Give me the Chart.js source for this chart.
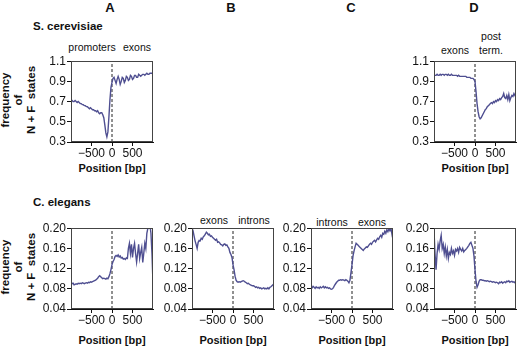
<!DOCTYPE html>
<html>
<head>
<meta charset="utf-8">
<script src="https://cdn.jsdelivr.net/npm/chart.js@4.4.1/dist/chart.umd.min.js"></script>
<style>
  body { margin: 0; background: #fff; overflow: hidden; }
  #page { position: relative; width: 518px; height: 347px; font-family: "Liberation Sans", Arial, sans-serif; color: #111; }
  canvas { position: absolute; }
  .t { position: absolute; transform: translate(-50%, -50%); white-space: nowrap; }
  .letter { font-size: 13px; font-weight: bold; }
  .note { font-size: 10.5px; }
  .pos { font-size: 11px; font-weight: bold; }
  .species { position: absolute; font-size: 11.5px; font-weight: bold; transform: translateY(-50%); }
  .ylab { position: absolute; transform: translate(-50%, -50%) rotate(-90deg); font-size: 11.5px; font-weight: bold; text-align: center; line-height: 13px; white-space: nowrap; }
</style>
</head>
<body>
<div id="page">
  <div class="t letter" style="left:110px; top:7px;">A</div>
  <div class="t letter" style="left:231px; top:7px;">B</div>
  <div class="t letter" style="left:351px; top:7px;">C</div>
  <div class="t letter" style="left:474px; top:7px;">D</div>

  <div class="species" style="left:33px; top:26px;">S. cerevisiae</div>
  <div class="species" style="left:33px; top:202px;">C. elegans</div>

  <div class="ylab" style="left:18px; top:100px;">frequency<br>of<br>N + F&nbsp; states</div>
  <div class="ylab" style="left:18px; top:267px;">frequency<br>of<br>N + F&nbsp; states</div>

  <div class="t note" style="left:92px; top:47px;">promoters</div>
  <div class="t note" style="left:137px; top:47px;">exons</div>
  <div class="t note" style="left:455px; top:50px;">exons</div>
  <div class="t note" style="left:491px; top:36px;">post</div>
  <div class="t note" style="left:491px; top:50px;">term.</div>
  <div class="t note" style="left:214px; top:220px;">exons</div>
  <div class="t note" style="left:254px; top:220px;">introns</div>
  <div class="t note" style="left:332px; top:222px;">introns</div>
  <div class="t note" style="left:372px; top:222px;">exons</div>

  <div class="t pos" style="left:112px; top:168px;">Position [bp]</div>
  <div class="t pos" style="left:475px; top:168px;">Position [bp]</div>
  <div class="t pos" style="left:112px; top:340px;">Position [bp]</div>
  <div class="t pos" style="left:233px; top:340px;">Position [bp]</div>
  <div class="t pos" style="left:352px; top:340px;">Position [bp]</div>
  <div class="t pos" style="left:475px; top:340px;">Position [bp]</div>

  <canvas id="yeastA" width="125" height="109"></canvas>
  <canvas id="yeastD" width="125" height="109"></canvas>
  <canvas id="wormA" width="125" height="109"></canvas>
  <canvas id="wormB" width="125" height="109"></canvas>
  <canvas id="wormC" width="125" height="109"></canvas>
  <canvas id="wormD" width="125" height="109"></canvas>
</div>

<script>
// position relative to the boundary, bp
const positions = [
    -1000, -975, -950, -925, -900, -875, -850, -825, -800, -775,
    -750, -725, -700, -675, -650, -625, -600, -575, -550, -525,
    -500, -475, -450, -425, -400, -375, -350, -325, -300, -275,
    -250, -225, -200, -175, -150, -125, -100, -75, -50, -25,
    0, 25, 50, 75, 100, 125, 150, 175, 200, 225,
    250, 275, 300, 325, 350, 375, 400, 425, 450, 475,
    500, 525, 550, 575, 600, 625, 650, 675, 700, 725,
    750, 775, 800, 825, 850, 875, 900, 925, 950, 975, 1000
];

const xTicks = [-500, 0, 500];
const yeastTicks = [0.3, 0.5, 0.7, 0.9, 1.1];
const wormTicks = [0.04, 0.08, 0.12, 0.16, 0.20];

// S. cerevisiae, promoters -> exons
const yeastPromExon = [
    0.70, 0.71, 0.70, 0.70, 0.71, 0.70, 0.69, 0.70, 0.69, 0.68,
    0.68, 0.67, 0.67, 0.66, 0.66, 0.65, 0.65, 0.64, 0.63, 0.64,
    0.63, 0.62, 0.62, 0.61, 0.61, 0.60, 0.61, 0.59, 0.58, 0.59,
    0.59, 0.57, 0.54, 0.47, 0.39, 0.35, 0.40, 0.55, 0.72, 0.84,
    0.89, 0.93, 0.94, 0.91, 0.88, 0.92, 0.95, 0.92, 0.87, 0.90,
    0.94, 0.93, 0.89, 0.91, 0.95, 0.94, 0.91, 0.92, 0.96, 0.95,
    0.92, 0.93, 0.96, 0.96, 0.94, 0.94, 0.97, 0.96, 0.95, 0.96,
    0.97, 0.97, 0.96, 0.97, 0.98, 0.97, 0.97, 0.98, 0.98, 0.98, 0.97
];

// S. cerevisiae, exons -> post termination
const yeastExonPost = [
    0.96, 0.96, 0.96, 0.97, 0.96, 0.96, 0.97, 0.96, 0.97, 0.97,
    0.96, 0.97, 0.97, 0.96, 0.97, 0.96, 0.96, 0.97, 0.96, 0.96,
    0.96, 0.96, 0.96, 0.95, 0.96, 0.95, 0.95, 0.95, 0.95, 0.95,
    0.95, 0.95, 0.94, 0.94, 0.94, 0.94, 0.93, 0.93, 0.93, 0.92,
    0.90, 0.80, 0.68, 0.60, 0.55, 0.53, 0.54, 0.56, 0.58, 0.60,
    0.62, 0.63, 0.65, 0.66, 0.67, 0.68, 0.69, 0.68, 0.70, 0.69,
    0.71, 0.70, 0.72, 0.71, 0.73, 0.72, 0.74, 0.75, 0.78, 0.74,
    0.73, 0.76, 0.72, 0.77, 0.71, 0.74, 0.76, 0.75, 0.78, 0.76, 0.77
];

// C. elegans, promoters -> exons
const wormPromExon = [
    0.092, 0.090, 0.091, 0.088, 0.089, 0.090, 0.089, 0.091, 0.090, 0.091,
    0.090, 0.092, 0.091, 0.090, 0.091, 0.092, 0.091, 0.093, 0.092, 0.094,
    0.093, 0.094, 0.095, 0.096, 0.097, 0.099, 0.101, 0.104, 0.106, 0.104,
    0.102, 0.100, 0.101, 0.100, 0.099, 0.101, 0.100, 0.104, 0.110, 0.118,
    0.128, 0.134, 0.138, 0.144, 0.146, 0.144, 0.147, 0.143, 0.145, 0.141,
    0.142, 0.139, 0.140, 0.138, 0.141, 0.140, 0.160, 0.170, 0.150, 0.168,
    0.142, 0.160, 0.170, 0.150, 0.133, 0.150, 0.168, 0.140, 0.152, 0.162,
    0.132, 0.150, 0.170, 0.160, 0.190, 0.200, 0.208, 0.206, 0.190, 0.150, 0.090
];

// C. elegans, exons -> introns
const wormExonIntron = [
    0.200, 0.195, 0.185, 0.175, 0.168, 0.160, 0.172, 0.176, 0.175, 0.180,
    0.178, 0.183, 0.185, 0.188, 0.192, 0.190, 0.187, 0.188, 0.184, 0.185,
    0.182, 0.180, 0.178, 0.176, 0.178, 0.172, 0.173, 0.171, 0.168, 0.167,
    0.165, 0.168, 0.169, 0.166, 0.167, 0.163, 0.160, 0.152, 0.148, 0.142,
    0.128, 0.118, 0.105, 0.097, 0.094, 0.093, 0.094, 0.093, 0.094, 0.095,
    0.096, 0.095, 0.093, 0.092, 0.090, 0.091, 0.089, 0.088, 0.087, 0.086,
    0.086, 0.085, 0.083, 0.084, 0.082, 0.083, 0.081, 0.082, 0.080, 0.081,
    0.082, 0.080, 0.081, 0.080, 0.082, 0.080, 0.083, 0.084, 0.086, 0.088, 0.090
];

// C. elegans, introns -> exons
const wormIntronExon = [
    0.084, 0.082, 0.085, 0.083, 0.081, 0.084, 0.082, 0.083, 0.081, 0.084,
    0.082, 0.083, 0.085, 0.082, 0.084, 0.082, 0.083, 0.081, 0.082, 0.080,
    0.079, 0.080, 0.083, 0.087, 0.090, 0.093, 0.095, 0.097, 0.097, 0.098,
    0.097, 0.098, 0.097, 0.096, 0.098, 0.097, 0.095, 0.092, 0.097, 0.112,
    0.128, 0.145, 0.155, 0.163, 0.170, 0.168, 0.166, 0.164, 0.162, 0.160,
    0.158, 0.156, 0.159, 0.161, 0.163, 0.162, 0.165, 0.168, 0.170, 0.168,
    0.172, 0.174, 0.176, 0.173, 0.177, 0.180, 0.178, 0.183, 0.186, 0.182,
    0.190, 0.188, 0.194, 0.190, 0.197, 0.193, 0.199, 0.195, 0.200, 0.188, 0.196
];

// C. elegans, exons -> post termination
const wormExonPost = [
    0.195, 0.150, 0.118, 0.150, 0.168, 0.158, 0.175, 0.186, 0.160, 0.168,
    0.150, 0.163, 0.145, 0.158, 0.140, 0.152, 0.148, 0.160, 0.150, 0.155,
    0.146, 0.158, 0.155, 0.160, 0.152, 0.162, 0.158, 0.155, 0.160, 0.153,
    0.156, 0.158, 0.160, 0.163, 0.166, 0.170, 0.172, 0.166, 0.160, 0.145,
    0.118, 0.095, 0.083, 0.088, 0.095, 0.098, 0.098, 0.097, 0.097, 0.096,
    0.096, 0.095, 0.096, 0.095, 0.094, 0.095, 0.094, 0.093, 0.094, 0.093,
    0.092, 0.093, 0.092, 0.090, 0.093, 0.092, 0.094, 0.091, 0.093, 0.094,
    0.092, 0.095, 0.094, 0.096, 0.093, 0.094, 0.095, 0.093, 0.094, 0.092, 0.094
];

const lineColor = '#4f4f91';
const tickFont = { family: '"Liberation Sans", Arial, sans-serif', size: 12 };

// box round the plot area (top and right sides)
const framePlugin = {
    id: 'frame',
    afterDatasetsDraw(chart) {
        const a = chart.chartArea;
        const ctx = chart.ctx;
        ctx.save();
        ctx.strokeStyle = '#444';
        ctx.lineWidth = 1;
        ctx.strokeRect(Math.round(a.left) + 0.5, Math.round(a.top) + 0.5,
            Math.round(a.right - a.left) - 1, Math.round(a.bottom - a.top) - 1);
        ctx.restore();
    }
};

function drawPanel(canvasId, plotLeft, plotTop, values, yTicks, digits) {
    const canvas = document.getElementById(canvasId);
    canvas.style.left = (plotLeft - 40) + 'px';
    canvas.style.top = (plotTop - 8) + 'px';

    const yMin = yTicks[0];
    const yMax = yTicks[yTicks.length - 1];
    const points = positions.map((x, i) => ({ x: x, y: values[i] }));

    new Chart(canvas.getContext('2d'), {
        type: 'line',
        data: {
            datasets: [
                {
                    data: points,
                    borderColor: lineColor,
                    borderWidth: 1.4,
                    pointRadius: 0,
                    tension: 0
                },
                {
                    data: [{ x: 0, y: yMin }, { x: 0, y: yMax }],
                    borderColor: '#222',
                    borderWidth: 1,
                    borderDash: [3, 2],
                    pointRadius: 0
                }
            ]
        },
        options: {
            responsive: false,
            animation: false,
            events: [],
            layout: { padding: { top: 8, right: 3, left: 0, bottom: 0 } },
            plugins: { legend: { display: false }, tooltip: { enabled: false } },
            scales: {
                x: {
                    type: 'linear',
                    min: -1000,
                    max: 1000,
                    afterBuildTicks: s => { s.ticks = xTicks.map(v => ({ value: v })); },
                    afterFit: s => { s.height = 20; },
                    ticks: {
                        font: tickFont,
                        color: '#111',
                        padding: 0,
                        maxRotation: 0,
                        autoSkip: false,
                        callback: v => v < 0 ? '\u2212' + Math.abs(v) : String(v)
                    },
                    grid: { drawOnChartArea: false, drawTicks: true, tickLength: 4, color: '#111' },
                    border: { color: '#111', width: 1 }
                },
                y: {
                    min: yMin,
                    max: yMax,
                    afterBuildTicks: s => { s.ticks = yTicks.map(v => ({ value: v })); },
                    afterFit: s => { s.width = 40; },
                    ticks: {
                        font: tickFont,
                        color: '#111',
                        padding: 1,
                        autoSkip: false,
                        callback: v => Number(v).toFixed(digits)
                    },
                    grid: { drawOnChartArea: false, drawTicks: true, tickLength: 4, color: '#111' },
                    border: { color: '#111', width: 1 }
                }
            }
        },
        plugins: [framePlugin]
    });
}

drawPanel('yeastA', 71, 61, yeastPromExon, yeastTicks, 1);
drawPanel('yeastD', 434, 61, yeastExonPost, yeastTicks, 1);
drawPanel('wormA', 71, 228, wormPromExon, wormTicks, 2);
drawPanel('wormB', 192, 228, wormExonIntron, wormTicks, 2);
drawPanel('wormC', 311, 228, wormIntronExon, wormTicks, 2);
drawPanel('wormD', 434, 228, wormExonPost, wormTicks, 2);
</script>
</body>
</html>
